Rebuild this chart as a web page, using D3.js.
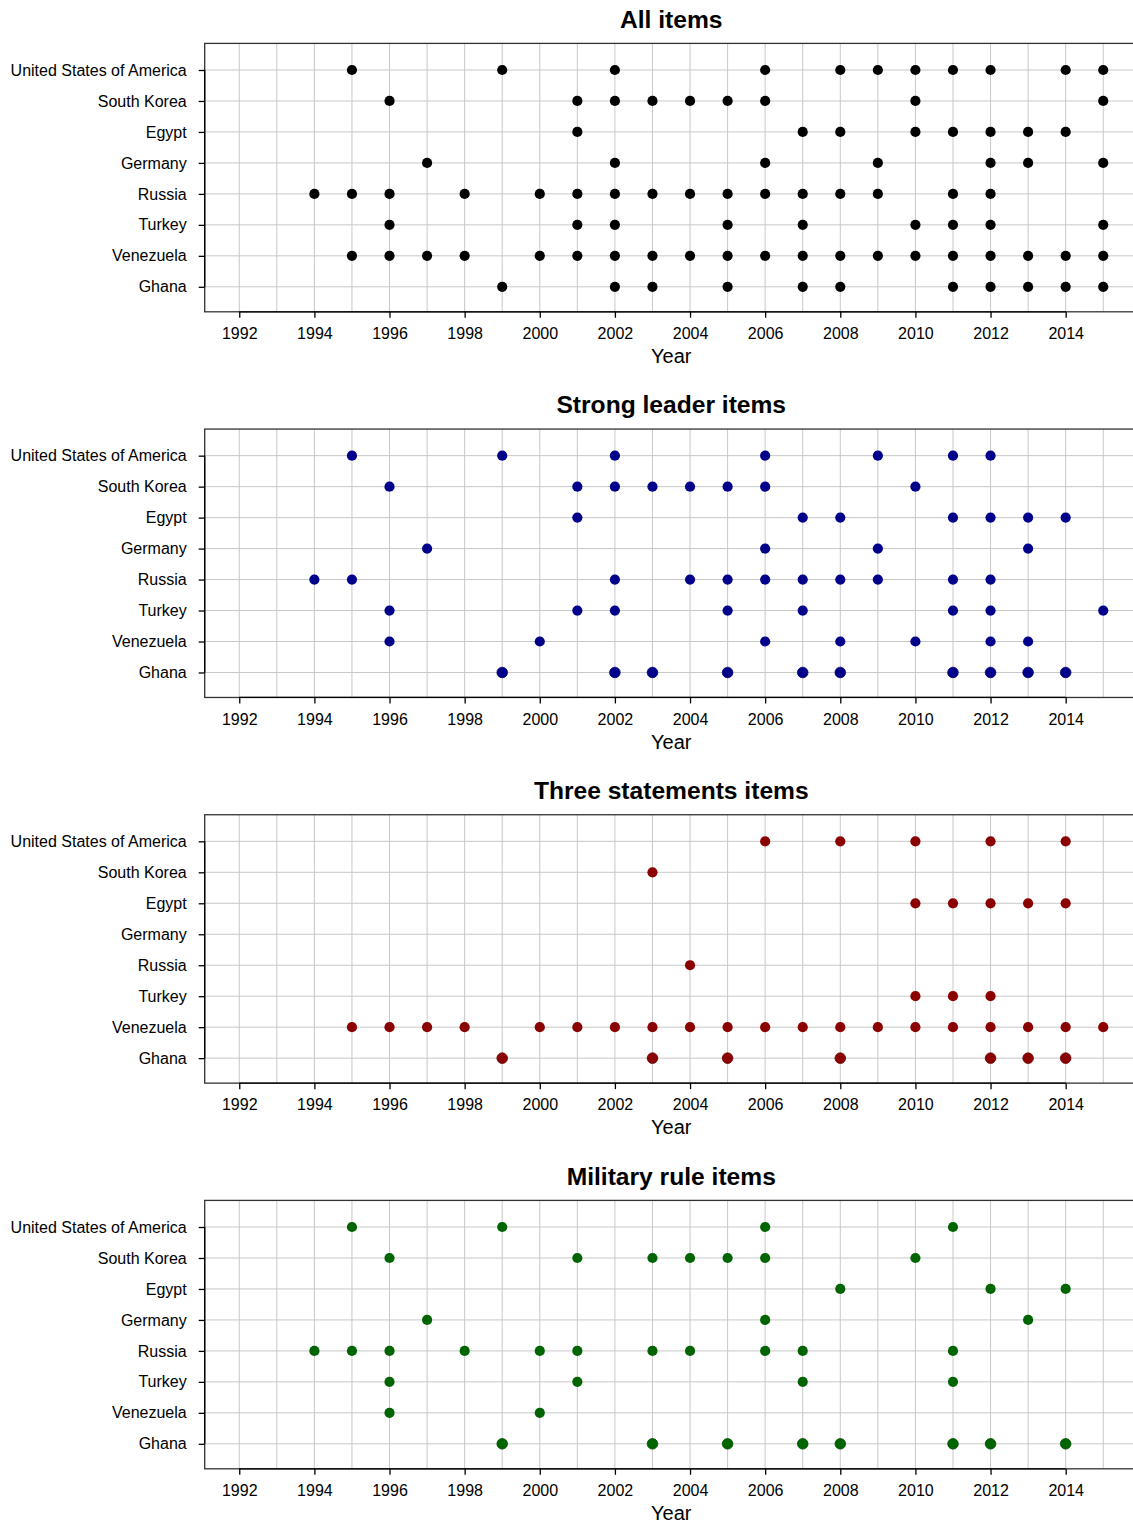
<!DOCTYPE html>
<html>
<head>
<meta charset="utf-8">
<script src="https://cdn.jsdelivr.net/npm/d3@7"></script>
<style>
  html, body { margin: 0; padding: 0; background: #fff; }
  svg { display: block; }
  text { font-family: "Liberation Sans", Arial, Helvetica, sans-serif; fill: #000; }
</style>
</head>
<body>
<svg id="chart" width="1133" height="1523"></svg>
<script>
// ---- Data ----
const countries = ["United States of America", "South Korea", "Egypt", "Germany", "Russia", "Turkey", "Venezuela", "Ghana"];
const xTickLabels = ["1992", "1994", "1996", "1998", "2000", "2002", "2004", "2006", "2008", "2010", "2012", "2014"];
const gridYears = [1992, 1993, 1994, 1995, 1996, 1997, 1998, 1999, 2000, 2001, 2002, 2003, 2004, 2005, 2006, 2007, 2008, 2009, 2010, 2011, 2012, 2013, 2014, 2015];
const panelTitles = ["All items", "Strong leader items", "Three statements items", "Military rule items"];
const panelColors = ["#000000", "#00008B", "#8B0000", "#006400"];

const allItems = {
  "United States of America": [1995, 1999, 2002, 2006, 2008, 2009, 2010, 2011, 2012, 2014, 2015],
  "South Korea": [1996, 2001, 2002, 2003, 2004, 2005, 2006, 2010, 2015],
  "Egypt": [2001, 2007, 2008, 2010, 2011, 2012, 2013, 2014],
  "Germany": [1997, 2002, 2006, 2009, 2012, 2013, 2015],
  "Russia": [1994, 1995, 1996, 1998, 2000, 2001, 2002, 2003, 2004, 2005, 2006, 2007, 2008, 2009, 2011, 2012],
  "Turkey": [1996, 2001, 2002, 2005, 2007, 2010, 2011, 2012, 2015],
  "Venezuela": [1995, 1996, 1997, 1998, 2000, 2001, 2002, 2003, 2004, 2005, 2006, 2007, 2008, 2009, 2010, 2011, 2012, 2013, 2014, 2015],
  "Ghana": [1999, 2002, 2003, 2005, 2007, 2008, 2011, 2012, 2013, 2014, 2015]
};
const strongLeaderItems = {
  "United States of America": [1995, 1999, 2002, 2006, 2009, 2011, 2012],
  "South Korea": [1996, 2001, 2002, 2003, 2004, 2005, 2006, 2010],
  "Egypt": [2001, 2007, 2008, 2011, 2012, 2013, 2014],
  "Germany": [1997, 2006, 2009, 2013],
  "Russia": [1994, 1995, 2002, 2004, 2005, 2006, 2007, 2008, 2009, 2011, 2012],
  "Turkey": [1996, 2001, 2002, 2005, 2007, 2011, 2012, 2015],
  "Venezuela": [1996, 2000, 2006, 2008, 2010, 2012, 2013],
  "Ghana": [1999, 2002, 2003, 2005, 2007, 2008, 2011, 2012, 2013, 2014]
};
const threeStatementsItems = {
  "United States of America": [2006, 2008, 2010, 2012, 2014],
  "South Korea": [2003],
  "Egypt": [2010, 2011, 2012, 2013, 2014],
  "Germany": [],
  "Russia": [2004],
  "Turkey": [2010, 2011, 2012],
  "Venezuela": [1995, 1996, 1997, 1998, 2000, 2001, 2002, 2003, 2004, 2005, 2006, 2007, 2008, 2009, 2010, 2011, 2012, 2013, 2014, 2015],
  "Ghana": [1999, 2003, 2005, 2008, 2012, 2013, 2014]
};
const militaryRuleItems = {
  "United States of America": [1995, 1999, 2006, 2011],
  "South Korea": [1996, 2001, 2003, 2004, 2005, 2006, 2010],
  "Egypt": [2008, 2012, 2014],
  "Germany": [1997, 2006, 2013],
  "Russia": [1994, 1995, 1996, 1998, 2000, 2001, 2003, 2004, 2006, 2007, 2011],
  "Turkey": [1996, 2001, 2007, 2011],
  "Venezuela": [1996, 2000],
  "Ghana": [1999, 2003, 2005, 2007, 2008, 2011, 2012, 2014]
};
const panelData = [allItems, strongLeaderItems, threeStatementsItems, militaryRuleItems];

// ---- Layout ----
const svg = d3.select("#chart");
const PANEL_H = 385.67;
const plotLeft = 204.7, plotRight = 1137.8;
const plotTop = 43.4, plotBottom = 311.8;

const x = d3.scaleLinear().domain([1991.08, 2015.92]).range([plotLeft, plotRight]);
const y = d3.scalePoint().domain(countries).range([70, 286.8]);

panelData.forEach((data, pi) => {
  const g = svg.append("g").attr("transform", `translate(0,${pi * PANEL_H})`);
  const color = panelColors[pi];

  const clipId = "clip" + pi;
  g.append("clipPath").attr("id", clipId)
    .append("rect").attr("x", plotLeft).attr("y", plotTop)
    .attr("width", plotRight - plotLeft).attr("height", plotBottom - plotTop);

  const grid = g.append("g").attr("clip-path", `url(#${clipId})`);
  grid.selectAll("line.v").data(gridYears).join("line")
    .attr("x1", d => x(d)).attr("x2", d => x(d))
    .attr("y1", plotTop).attr("y2", plotBottom)
    .attr("stroke", "#c8c8c8").attr("stroke-width", 1);
  grid.selectAll("line.h").data(countries).join("line")
    .attr("x1", plotLeft).attr("x2", plotRight)
    .attr("y1", d => y(d)).attr("y2", d => y(d))
    .attr("stroke", "#c8c8c8").attr("stroke-width", 1);

  // frame
  g.append("rect").attr("x", plotLeft).attr("y", plotTop)
    .attr("width", plotRight - plotLeft).attr("height", plotBottom - plotTop)
    .attr("fill", "none").attr("stroke", "#333").attr("stroke-width", 1.3);

  // x axis
  const xAxis = d3.axisBottom(x)
    .tickValues(xTickLabels.map(Number))
    .tickFormat(d3.format("d"))
    .tickSize(6).tickPadding(9).tickSizeOuter(0);
  const xg = g.append("g").attr("transform", `translate(0,${plotBottom})`).call(xAxis);
  xg.select(".domain").remove();
  xg.append("line").attr("x1", x(1992)).attr("x2", x(2014)).attr("y1", 0).attr("y2", 0)
    .attr("stroke", "#000").attr("stroke-width", 1.3);
  xg.selectAll(".tick line").attr("stroke", "#000").attr("stroke-width", 1.3);
  xg.selectAll(".tick text").attr("font-size", 16).attr("fill", "#000")
    .attr("font-family", "Liberation Sans, Arial, sans-serif").attr("dy", "0.76em");

  // y axis
  const yAxis = d3.axisLeft(y).tickSize(6).tickPadding(12).tickSizeOuter(0);
  const yg = g.append("g").attr("transform", `translate(${plotLeft},0)`).call(yAxis);
  yg.select(".domain").remove();
  yg.append("line").attr("x1", 0).attr("x2", 0).attr("y1", y(countries[0])).attr("y2", y(countries[countries.length - 1]))
    .attr("stroke", "#000").attr("stroke-width", 1.3);
  yg.selectAll(".tick line").attr("stroke", "#000").attr("stroke-width", 1.3);
  yg.selectAll(".tick text").attr("font-size", 16).attr("fill", "#000")
    .attr("font-family", "Liberation Sans, Arial, sans-serif");

  // title
  g.append("text").attr("x", (plotLeft + plotRight) / 2).attr("y", 27.5)
    .attr("text-anchor", "middle").attr("font-size", 24.6).attr("font-weight", "bold")
    .text(panelTitles[pi]);

  // x label
  g.append("text").attr("x", (plotLeft + plotRight) / 2).attr("y", 363)
    .attr("text-anchor", "middle").attr("font-size", 20)
    .text("Year");

  // points
  const pts = [];
  countries.forEach(c => (data[c] || []).forEach(yr => pts.push({ c, yr })));
  const isMulti = d => pi > 0 && d.c === "Ghana";
  g.append("g").selectAll("circle").data(pts).join("circle")
    .attr("cx", d => x(d.yr)).attr("cy", d => y(d.c))
    .attr("r", d => isMulti(d) ? 5.3 : 5.1)
    .attr("fill", color)
    .attr("stroke", d => isMulti(d) ? d3.color(color).darker(0.8) : "none")
    .attr("stroke-width", d => isMulti(d) ? 0.8 : 0);
});
</script>
</body>
</html>
